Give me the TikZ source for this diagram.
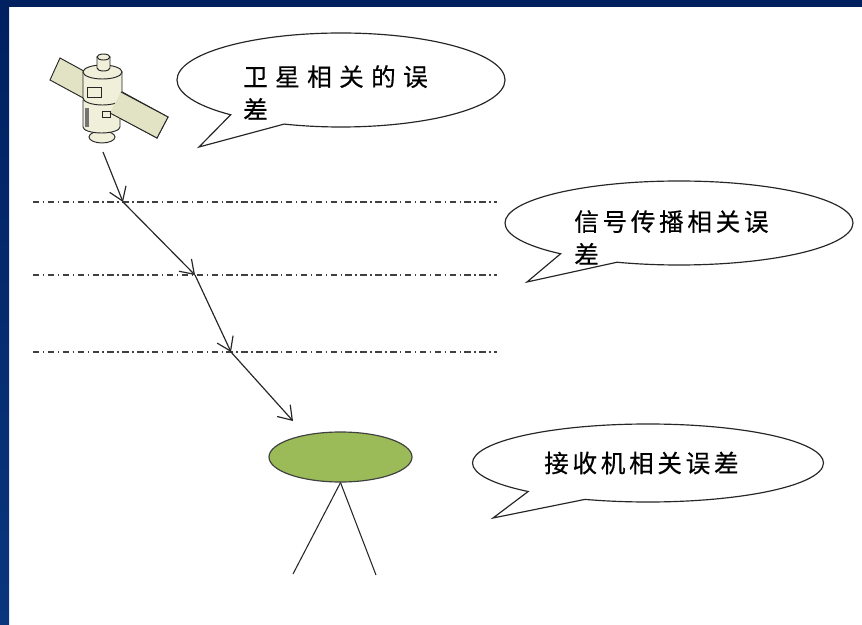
\documentclass[tikz,border=0pt]{standalone}
\usepackage{fontspec}
\newfontfamily\cjk[FakeBold=0.4]{Noto Sans CJK SC}
\usetikzlibrary{shapes.geometric,shapes.callouts,arrows.meta}
\definecolor{navy}{HTML}{002060}
\definecolor{navylight}{HTML}{0A367E}
\definecolor{hull}{HTML}{EFEFDA}
\definecolor{panel}{HTML}{E2E2C4}
\definecolor{dishgreen}{HTML}{9BBB59}
\definecolor{ink}{HTML}{262626}

\begin{document}
\begin{tikzpicture}[x=0.03cm, y=-0.03cm,
	bubble/.style={ellipse callout, draw=ink, line width=1pt, fill=white, callout pointer arc=22},
	words/.style={inner sep=0, anchor=north west, align=left, font=\cjk\fontsize{21pt}{28pt}\selectfont},
	ray/.style={draw=ink, line width=1pt, -{Straight Barb[length=11pt, width=15pt, line width=1pt]}},
	layer/.style={draw=black!75, line width=1pt, dash pattern=on 5.5pt off 3pt on 1.2pt off 3pt},
	leg/.style={draw=ink, line width=0.9pt}]
	\useasboundingbox (0,0) rectangle (862,625);
	% Frame
	\fill[white] (0,0) rectangle (862,625);
	\fill[navy] (0,0) rectangle (862,7);
	\shade[top color=navy, bottom color=navylight] (0,0) rectangle (9,625);
	% Satellite
	\begin{scope}[line width=0.8pt, draw=black!85]
		\filldraw[fill=panel] (60,58) -- (50,80) -- (157,138) -- (168,117) -- cycle;
		\filldraw[fill=hull] (102,137) ellipse [x radius=13, y radius=6];
		\filldraw[fill=hull] (83,100) -- (83,127) arc [start angle=180, end angle=0, x radius=18.5, y radius=6] -- (120,100) -- cycle;
		\fill[black!55] (85,108) rectangle (89,127);
		\filldraw[fill=hull] (83,72) -- (83,98) arc [start angle=180, end angle=0, x radius=19.5, y radius=7] -- (122,72) -- cycle;
		\filldraw[fill=hull] (102.5,72) ellipse [x radius=19.5, y radius=7];
		\filldraw[fill=hull] (97,57) -- (97,68) arc [start angle=180, end angle=0, x radius=6.5, y radius=3] -- (110,57) -- cycle;
		\filldraw[fill=hull] (103.5,57) ellipse [x radius=6.5, y radius=3];
		\draw (87,87) rectangle (101,97);
		\fill[panel] (121,92) -- (110,113) -- (157,138) -- (168,117) -- cycle;
		\draw (121,92) -- (168,117) -- (157,138) -- (110,113);
		\draw (102,111) rectangle (110,117);
	\end{scope}
	% Layer boundaries
	\foreach \y in {202,275,352}
		\draw[layer] (33,\y) -- (497,\y);
	% Signal path
	\coordinate (P0) at (103,152);
	\coordinate (P1) at (123,202);
	\coordinate (P2) at (195,275);
	\coordinate (P3) at (231,352);
	\coordinate (P4) at (293,421);
	\foreach \a/\b in {P0/P1,P1/P2,P2/P3,P3/P4}
		\draw[ray] (\a) -- (\b);
	% Receiver
	\node[ellipse, draw=black!75, fill=dishgreen, line width=1pt, minimum width=4.29cm, minimum height=1.5cm] (R) at (340.5,457) {};
	\coordinate (F1) at (293,574);
	\coordinate (F2) at (376,575);
	\draw[leg] (R.south) -- (F1);
	\draw[leg] (R.south) -- (F2);
	% Callouts
	\node[bubble, minimum width=9.84cm, minimum height=2.82cm, callout absolute pointer={(199,147)}] (C1) at (341,80) {};
	\node[bubble, minimum width=10.44cm, minimum height=2.52cm, callout absolute pointer={(527,282)}] (C2) at (679,223) {};
	\node[bubble, minimum width=10.53cm, minimum height=2.34cm, callout absolute pointer={(493,518)}] (C3) at (648,463) {};
	\node[words] (T1) at (243,65) {\addfontfeature{LetterSpace=30}卫星相关的误\\\addfontfeature{LetterSpace=30}差};
	\node[words] (T2) at (574,210) {\addfontfeature{LetterSpace=15}信号传播相关误\\差};
	\node[words, anchor=west] (T3) at (544,463) {\addfontfeature{LetterSpace=15}接收机相关误差};
\end{tikzpicture}
\end{document}
